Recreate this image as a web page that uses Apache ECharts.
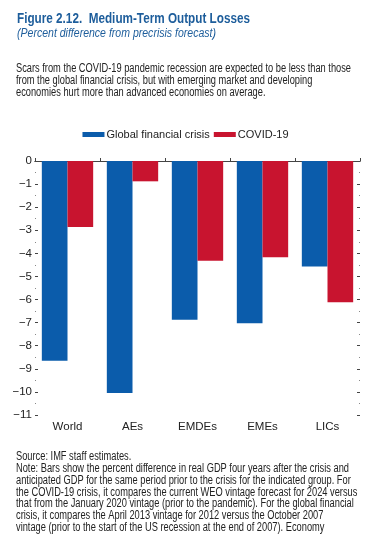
<!DOCTYPE html>
<html>
<head>
<meta charset="utf-8">
<script src="https://cdn.jsdelivr.net/npm/echarts@6/dist/echarts.min.js"></script>
<style>
html,body{margin:0;padding:0;background:#fff;}
#chart{width:371px;height:547px;}
</style>
</head>
<body>
<div id="chart"></div>
<script>
var categories = ['World', 'AEs', 'EMDEs', 'EMEs', 'LICs'];
var gfcValues = [-8.65, -10.05, -6.88, -7.03, -4.57];
var covidValues = [-2.86, -0.88, -4.32, -4.17, -6.12];
var seriesNames = ['Global financial crisis', 'COVID-19'];
var yMin = -11, yMax = 0, yStep = 1;

var FONT = '"Liberation Sans", Arial, sans-serif';
var titleText = 'Figure 2.12.  Medium-Term Output Losses';
var subtitleText = '(Percent difference from precrisis forecast)';
var bodyLines = [
  'Scars from the COVID-19 pandemic recession are expected to be less than those',
  'from the global financial crisis, but with emerging market and developing',
  'economies hurt more than advanced economies on average.'
];
var noteLines = [
  'Source: IMF staff estimates.',
  'Note: Bars show the percent difference in real GDP four years after the crisis and',
  'anticipated GDP for the same period prior to the crisis for the indicated group. For',
  'the COVID-19 crisis, it compares the current WEO vintage forecast for 2024 versus',
  'that from the January 2020 vintage (prior to the pandemic). For the global financial',
  'crisis, it compares the April 2013 vintage for 2012 versus the October 2007',
  'vintage (prior to the start of the US recession at the end of 2007). Economy'
];

// measure text to compress horizontally like the condensed original typeface
var mctx = document.createElement('canvas').getContext('2d');
function fitScale(font, text, target) {
  mctx.font = font;
  var w = mctx.measureText(text).width;
  return w > 0 ? target / w : 1;
}
var titleFont = 'bold 15px ' + FONT;
var subFont = 'italic 12.5px ' + FONT;
var bodyFont = '12px ' + FONT;
var titleScale = fitScale(titleFont, titleText, 233);
var subScale = fitScale(subFont, subtitleText, 199);
var bodyScale = fitScale(bodyFont, bodyLines[0], 335);
var noteScale = fitScale(bodyFont, noteLines[1], 333);

var chart = echarts.init(document.getElementById('chart'), null, {renderer: 'canvas'});

var graphics = [
  {type: 'text', x: 17, y: 11, scaleX: titleScale, style: {text: titleText, font: titleFont, fill: '#1d5d9b'}},
  {type: 'text', x: 17, y: 27, scaleX: subScale, style: {text: subtitleText, font: subFont, fill: '#1d5d9b'}},
  {type: 'text', x: 16, y: 63, scaleX: bodyScale, style: {text: bodyLines.join('\n'), font: bodyFont, fill: '#222', lineHeight: 12}},
  {type: 'text', x: 16, y: 451, scaleX: noteScale, style: {text: noteLines.join('\n'), font: bodyFont, fill: '#222', lineHeight: 11.8}}
];

var yFmt = function (v) { return v < 0 ? '\u2212' + Math.abs(v) : String(v); };

chart.setOption({
  animation: false,
  textStyle: {fontFamily: FONT},
  graphic: graphics,
  legend: {
    top: 124, left: 'center',
    itemWidth: 22, itemHeight: 5, itemGap: 4,
    icon: 'rect',
    textStyle: {fontSize: 11, color: '#222', fontFamily: FONT, padding: [0, 0, 0, -3]},
    data: seriesNames
  },
  grid: {left: 35, right: 11, top: 161, bottom: 132, containLabel: false},
  xAxis: [
    {
      type: 'category', data: categories, position: 'bottom',
      axisLine: {show: true, lineStyle: {color: '#444', width: 1}},
      axisTick: {show: true, inside: true, length: 3, lineStyle: {color: '#444'}},
      axisLabel: {fontSize: 11.5, color: '#222', margin: 6, fontFamily: FONT}
    },
    {
      type: 'category', data: categories, position: 'top',
      axisLine: {show: true, onZero: false, lineStyle: {color: '#444', width: 1}},
      axisTick: {show: false}, axisLabel: {show: false}
    }
  ],
  yAxis: [
    {
      type: 'value', min: yMin, max: yMax, interval: yStep, position: 'left',
      axisLine: {show: false},
      axisTick: {show: true, inside: true, length: 3, lineStyle: {color: '#444'}},
      minorTick: {show: true, splitNumber: 2, length: 1, lineStyle: {color: '#888'}},
      splitLine: {show: false},
      axisLabel: {formatter: yFmt, fontSize: 11.5, color: '#222', margin: 3, fontFamily: FONT}
    },
    {
      type: 'value', min: yMin, max: yMax, interval: yStep, position: 'right',
      axisLine: {show: false},
      axisTick: {show: true, inside: true, length: 3, lineStyle: {color: '#444'}},
      minorTick: {show: true, splitNumber: 2, length: 1, lineStyle: {color: '#888'}},
      splitLine: {show: false},
      axisLabel: {show: false}
    }
  ],
  series: [
    {name: seriesNames[0], type: 'bar', data: gfcValues, barGap: '0%', barCategoryGap: '21%', itemStyle: {color: '#0b5cab'}},
    {name: seriesNames[1], type: 'bar', data: covidValues, barGap: '0%', barCategoryGap: '21%', itemStyle: {color: '#c8142f'}}
  ]
});
</script>
</body>
</html>
